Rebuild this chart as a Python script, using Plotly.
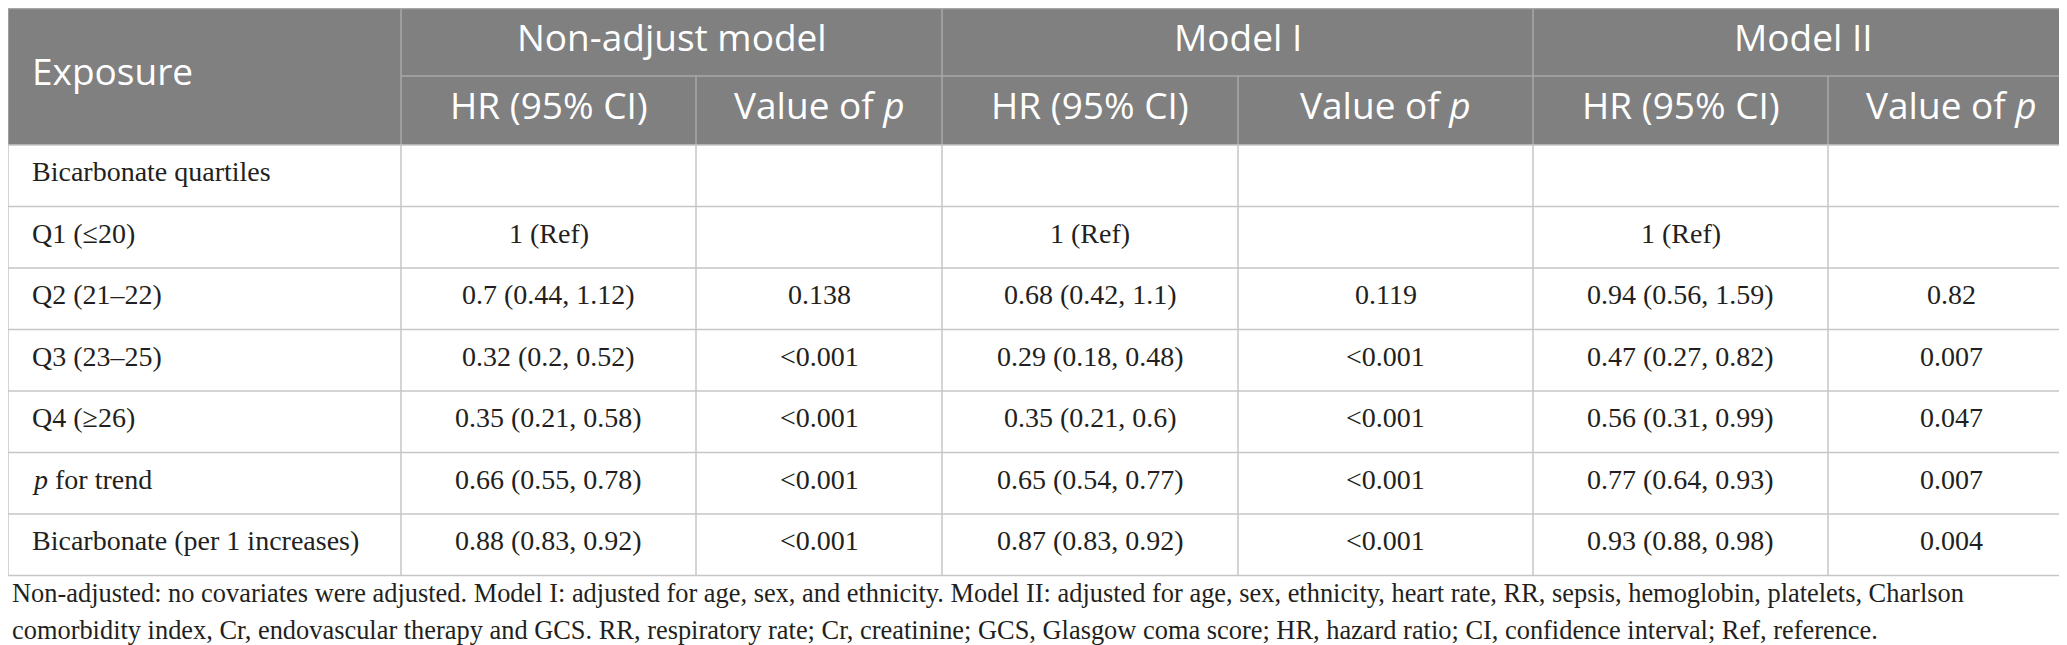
import plotly.graph_objects as go

# table content
groups = ["Non-adjust model", "Model I", "Model II"]
sub_headers = ["HR (95% CI)", "Value of <i>p</i>"]

exposure = ["Bicarbonate quartiles", "Q1 (≤20)", "Q2 (21–22)", "Q3 (23–25)",
            "Q4 (≥26)", "<i>p</i> for trend", "Bicarbonate (per 1 increases)"]
nonadj_hr = ["", "1 (Ref)", "0.7 (0.44, 1.12)", "0.32 (0.2, 0.52)", "0.35 (0.21, 0.58)",
             "0.66 (0.55, 0.78)", "0.88 (0.83, 0.92)"]
nonadj_p = ["", "", "0.138", "<0.001", "<0.001", "<0.001", "<0.001"]
m1_hr = ["", "1 (Ref)", "0.68 (0.42, 1.1)", "0.29 (0.18, 0.48)", "0.35 (0.21, 0.6)",
         "0.65 (0.54, 0.77)", "0.87 (0.83, 0.92)"]
m1_p = ["", "", "0.119", "<0.001", "<0.001", "<0.001", "<0.001"]
m2_hr = ["", "1 (Ref)", "0.94 (0.56, 1.59)", "0.47 (0.27, 0.82)", "0.56 (0.31, 0.99)",
         "0.77 (0.64, 0.93)", "0.93 (0.88, 0.98)"]
m2_p = ["", "", "0.82", "0.007", "0.047", "0.007", "0.004"]

footnote = [
    "Non-adjusted: no covariates were adjusted. Model I: adjusted for age, sex, and ethnicity. "
    "Model II: adjusted for age, sex, ethnicity, heart rate, RR, sepsis, hemoglobin, platelets, Charlson",
    "comorbidity index, Cr, endovascular therapy and GCS. RR, respiratory rate; Cr, creatinine; "
    "GCS, Glasgow coma score; HR, hazard ratio; CI, confidence interval; Ref, reference.",
]

# layout constants (pixels)
W, H = 2067, 645
col_x = [0, 393, 688, 934, 1230, 1525, 1820, 2066]
head_y = [0, 68, 137]
row_h = 61.5
HEAD_BG = "#808080"
HEAD_LINE = "#a8a8a8"
BODY_LINE = "#c6c6c6"
TXT = "#231f20"
SANS = "Open Sans"
SERIF = "Liberation Serif"
HEAD_SIZE = 37
BODY_SIZE = 28
NOTE_SIZE = 26.4


def esc(s):
    return s.replace("<0", "&lt;0")


columns = [exposure, nonadj_hr, nonadj_p, m1_hr, m1_p, m2_hr, m2_p]
n_rows = len(exposure)
body_top = head_y[2]
body_bot = body_top + n_rows * row_h

fig = go.Figure()
shapes = []
ann = []

# header background
shapes.append(dict(type="rect", x0=0, x1=col_x[-1], y0=0, y1=head_y[2],
                   fillcolor=HEAD_BG, line_width=0, layer="below"))
# header lines
shapes.append(dict(type="line", x0=0, x1=col_x[-1], y0=0.5, y1=0.5, line=dict(color=HEAD_LINE, width=1.5)))
shapes.append(dict(type="line", x0=col_x[1], x1=col_x[-1], y0=head_y[1], y1=head_y[1],
                   line=dict(color=HEAD_LINE, width=1.5)))
for i, x in enumerate(col_x):
    top = 0 if i in (0, 1, 3, 5, 7) else head_y[1]
    shapes.append(dict(type="line", x0=x, x1=x, y0=top, y1=head_y[2], line=dict(color=HEAD_LINE, width=1.5)))

# body lines
for r in range(n_rows + 1):
    y = body_top + r * row_h
    shapes.append(dict(type="line", x0=0, x1=col_x[-1], y0=y, y1=y, line=dict(color=BODY_LINE, width=1.5)))
for x in col_x:
    shapes.append(dict(type="line", x0=x, x1=x, y0=body_top, y1=body_bot, line=dict(color=BODY_LINE, width=1.5)))

head_font = dict(family=SANS, size=HEAD_SIZE, color="white")
body_font = dict(family=SERIF, size=BODY_SIZE, color=TXT)

# header text
ann.append(dict(x=22, y=head_y[2] / 2, text="Exposure", xanchor="left", yanchor="middle",
                font=head_font, yshift=6))
for g, name in enumerate(groups):
    xc = (col_x[1 + 2 * g] + col_x[3 + 2 * g]) / 2
    ann.append(dict(x=xc, y=head_y[1] / 2, text=name, xanchor="center", yanchor="middle",
                    font=head_font, yshift=6))
    for k, sub in enumerate(sub_headers):
        c = 1 + 2 * g + k
        ann.append(dict(x=(col_x[c] + col_x[c + 1]) / 2, y=(head_y[1] + head_y[2]) / 2, text=sub,
                        xanchor="center", yanchor="middle", font=head_font, yshift=6))

# body text
for c, col in enumerate(columns):
    for r, val in enumerate(col):
        if not val:
            continue
        yc = body_top + (r + 0.5) * row_h
        if c == 0:
            ann.append(dict(x=22, y=yc, text=esc(val), xanchor="left", yanchor="middle",
                            font=body_font, yshift=4))
        else:
            ann.append(dict(x=(col_x[c] + col_x[c + 1]) / 2, y=yc, text=esc(val),
                            xanchor="center", yanchor="middle", font=body_font, yshift=4))

# footnote
for i, line in enumerate(footnote):
    ann.append(dict(x=2, y=body_bot + 17 + i * 37, text=line, xanchor="left", yanchor="middle",
                    font=dict(family=SERIF, size=NOTE_SIZE, color=TXT)))

for a in ann:
    a.update(xref="x", yref="y", showarrow=False)

fig.update_layout(
    width=W, height=H,
    margin=dict(l=0, r=0, t=0, b=0),
    paper_bgcolor="white", plot_bgcolor="white",
    xaxis=dict(range=[0, W], visible=False, fixedrange=True),
    yaxis=dict(range=[H, 0], visible=False, fixedrange=True),
    shapes=shapes, annotations=ann, showlegend=False,
)

fig.write_html("out.html")
